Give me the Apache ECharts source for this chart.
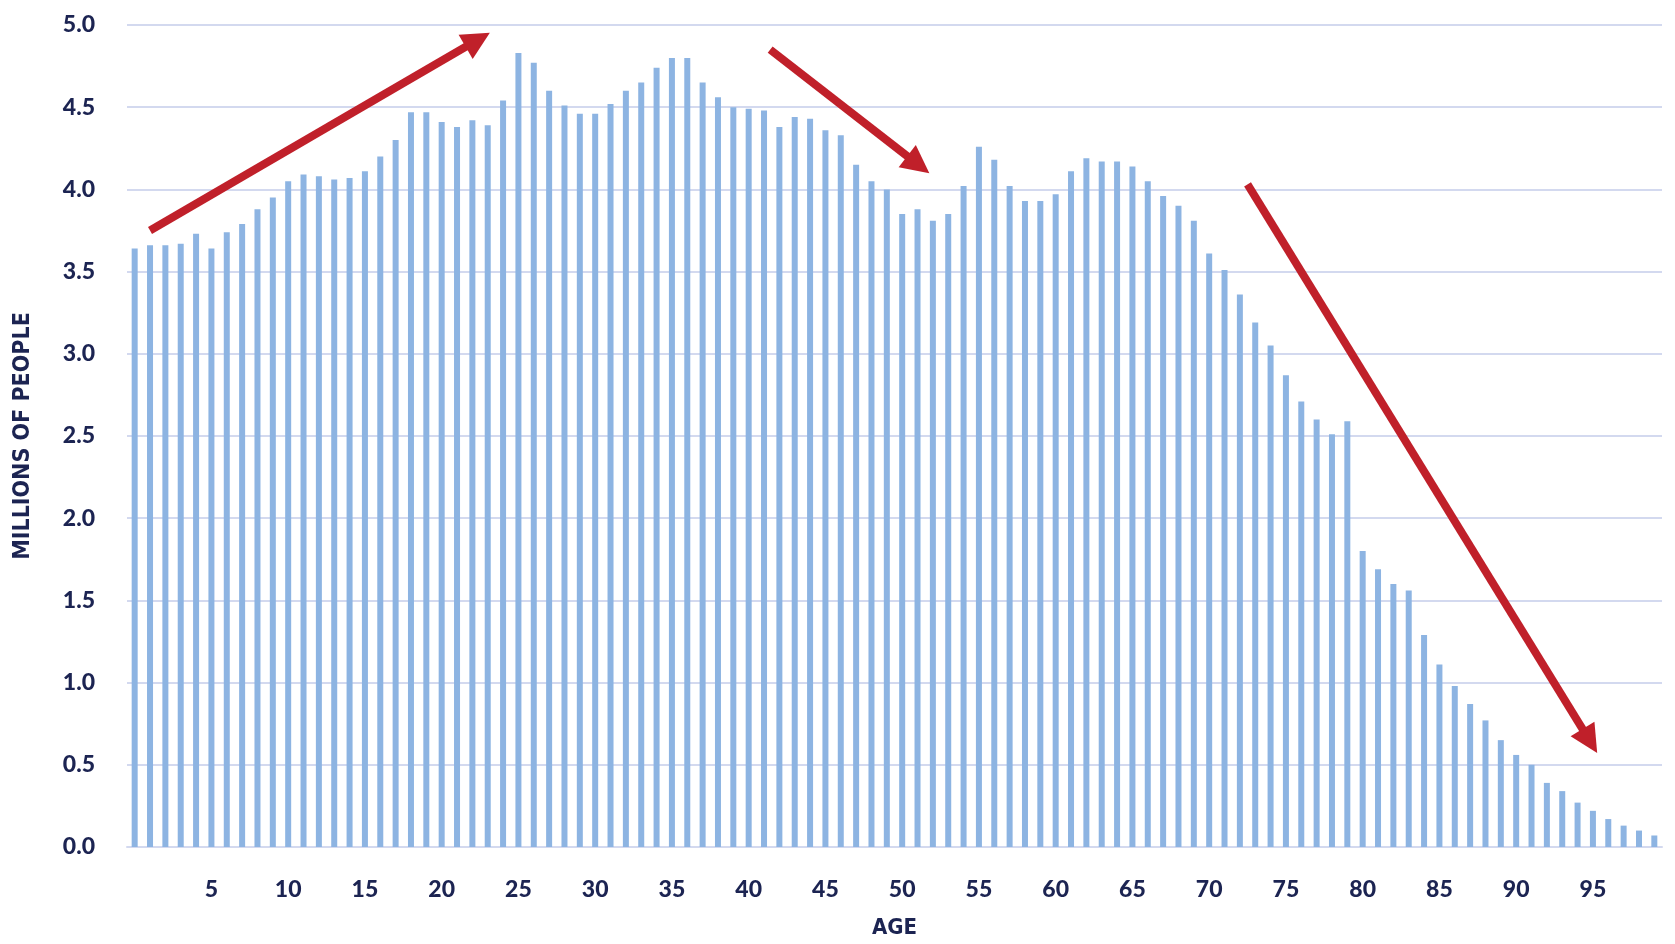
<!DOCTYPE html>
<html>
<head>
<meta charset="utf-8">
<script src="https://cdn.jsdelivr.net/npm/echarts@6/dist/echarts.min.js"></script>
<style>
  html, body { margin: 0; padding: 0; background: #fff; }
  #chart { width: 1675px; height: 944px; }
</style>
</head>
<body>
<div id="chart"></div>
<script>
(function() {
  var ink = '#1c2452';
  var bar = '#8db4e2';
  var rule = '#d3d9ef';
  var red = '#c0202a';
  var condensed = '"DejaVu Sans Condensed", "Liberation Sans Narrow", "Roboto Condensed", sans-serif';

  // ages 0..99
  var ages = [];
  for (var a = 0; a < 100; a++) ages.push(String(a));

  // millions of people by single year of age
  var people = [
    3.64, 3.66, 3.66, 3.67, 3.73, 3.64, 3.74, 3.79, 3.88, 3.95,
    4.05, 4.09, 4.08, 4.06, 4.07, 4.11, 4.20, 4.30, 4.47, 4.47,
    4.41, 4.38, 4.42, 4.39, 4.54, 4.83, 4.77, 4.60, 4.51, 4.46,
    4.46, 4.52, 4.60, 4.65, 4.74, 4.80, 4.80, 4.65, 4.56, 4.50,
    4.49, 4.48, 4.38, 4.44, 4.43, 4.36, 4.33, 4.15, 4.05, 4.00,
    3.85, 3.88, 3.81, 3.85, 4.02, 4.26, 4.18, 4.02, 3.93, 3.93,
    3.97, 4.11, 4.19, 4.17, 4.17, 4.14, 4.05, 3.96, 3.90, 3.81,
    3.61, 3.51, 3.36, 3.19, 3.05, 2.87, 2.71, 2.60, 2.51, 2.59,
    1.80, 1.69, 1.60, 1.56, 1.29, 1.11, 0.98, 0.87, 0.77, 0.65,
    0.56, 0.50, 0.39, 0.34, 0.27, 0.22, 0.17, 0.13, 0.10, 0.07
  ];

  // trend arrows, [age, millions] start -> end
  var arrowRise = [[1.0, 3.75], [22.35, 4.91]];
  var arrowDip = [[41.4, 4.85], [51.05, 4.15]];
  var arrowFall = [[72.5, 4.03], [94.8, 0.645]];

  var chart = echarts.init(document.getElementById('chart'), null, { renderer: 'canvas' });
  var option = {
    animation: false,
    grid: { left: 127, right: 13, top: 25, bottom: 88 },
    xAxis: [
      {
        type: 'category',
        data: ages,
        name: 'AGE',
        nameLocation: 'middle',
        nameGap: 70,
        nameTextStyle: { color: ink, fontFamily: condensed, fontWeight: 'bold', fontSize: 22 },
        axisLine: { lineStyle: { color: rule, width: 2 } },
        axisTick: { show: false },
        axisLabel: {
          color: ink,
          fontFamily: 'Lato',
          fontWeight: 900,
          fontSize: 23,
          margin: 31,
          interval: function(i) { return i > 0 && i % 5 === 0; }
        }
      },
      {
        type: 'value',
        min: -0.5,
        max: 99.5,
        show: false
      }
    ],
    yAxis: {
      type: 'value',
      min: 0,
      max: 5,
      interval: 0.5,
      name: 'MILLIONS OF PEOPLE',
      nameLocation: 'middle',
      nameGap: 92,
      nameTextStyle: { color: ink, fontFamily: condensed, fontWeight: 'bold', fontSize: 23 },
      axisLine: { show: false },
      axisTick: { show: false },
      axisLabel: {
        color: ink,
        fontFamily: 'Lato',
        fontWeight: 900,
        fontSize: 23,
        margin: 32,
        formatter: function(v) { return v.toFixed(1); }
      },
      splitLine: { lineStyle: { color: rule, width: 2 } }
    },
    series: [
      {
        type: 'bar',
        data: people,
        barWidth: 6,
        itemStyle: { color: bar }
      },
      {
        type: 'lines',
        coordinateSystem: 'cartesian2d',
        xAxisIndex: 1,
        yAxisIndex: 0,
        symbol: ['none', 'triangle'],
        symbolSize: [26, 28],
        lineStyle: { color: red, width: 8, opacity: 1, curveness: 0 },
        data: [
          { coords: arrowRise },
          { coords: arrowDip },
          { coords: arrowFall }
        ],
        z: 5
      }
    ]
  };
  chart.setOption(option);
  window.addEventListener('resize', function() { chart.resize(); });
})();
</script>
</body>
</html>
